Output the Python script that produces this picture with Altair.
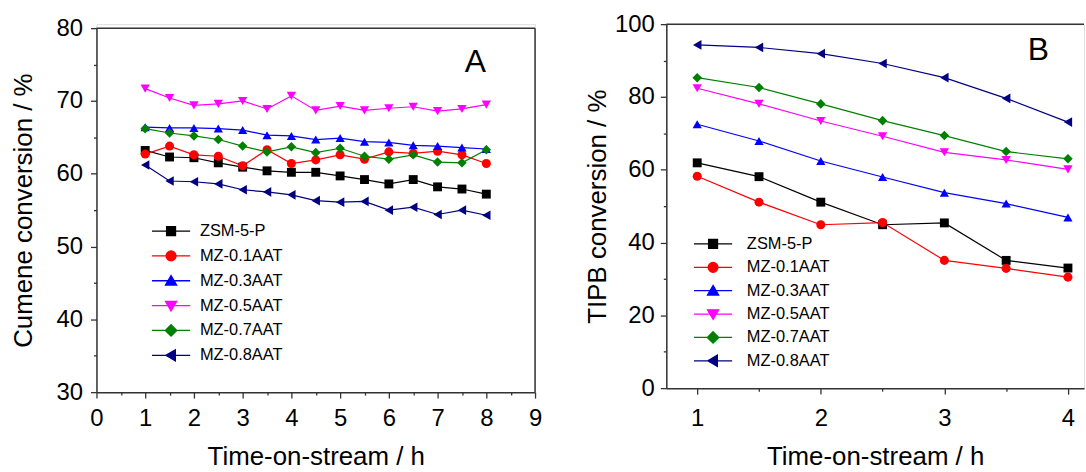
import altair as alt
import pandas as pd

FONT = "Liberation Sans"

series = ["ZSM-5-P", "MZ-0.1AAT", "MZ-0.3AAT", "MZ-0.5AAT", "MZ-0.7AAT", "MZ-0.8AAT"]
colors = ["#000000", "#ff0000", "#0000ff", "#ff00ff", "#008000", "#000080"]
shapes = ["square", "circle", "triangle-up", "triangle-down", "diamond", "triangle-left"]

# legend glyphs: a short line segment with the series marker on it
legend_glyphs = [
    "M-2.4,0H2.4M-0.56,-0.56H0.56V0.56H-0.56Z",
    "M-2.4,0H2.4M0.62,0A0.62,0.62 0 1,1 -0.62,0A0.62,0.62 0 1,1 0.62,0Z",
    "M-2.4,0H2.4M0,-0.66L0.7,0.54L-0.7,0.54Z",
    "M-2.4,0H2.4M0,0.66L0.7,-0.54L-0.7,-0.54Z",
    "M-2.4,0H2.4M0,-0.72L0.72,0L0,0.72L-0.72,0Z",
    "M-2.4,0H2.4M-0.66,0L0.54,-0.7L0.54,0.7Z",
]

# Panel A: cumene cracking
time_a = [1.0, 1.5, 2.0, 2.5, 3.0, 3.5, 4.0, 4.5, 5.0, 5.5, 6.0, 6.5, 7.0, 7.5, 8.0]
cumene_zsm5p = [63.2, 62.3, 62.2, 61.5, 60.9, 60.4, 60.2, 60.2, 59.7, 59.2, 58.6, 59.2, 58.2, 57.9, 57.2]
cumene_01 = [62.7, 63.8, 62.6, 62.4, 61.1, 63.3, 61.4, 61.9, 62.6, 62.0, 63.0, 62.8, 63.1, 62.6, 61.4]
cumene_03 = [66.4, 66.3, 66.3, 66.2, 66.0, 65.3, 65.2, 64.7, 64.9, 64.4, 64.3, 63.9, 63.8, 63.6, 63.4]
cumene_05 = [71.7, 70.4, 69.4, 69.6, 70.0, 68.9, 70.7, 68.7, 69.3, 68.7, 69.0, 69.2, 68.6, 68.9, 69.5]
cumene_07 = [66.2, 65.6, 65.2, 64.7, 63.8, 63.0, 63.7, 62.9, 63.5, 62.4, 62.0, 62.6, 61.6, 61.5, 63.3]
cumene_08 = [61.2, 59.0, 58.9, 58.6, 57.8, 57.5, 57.1, 56.3, 56.1, 56.2, 55.0, 55.4, 54.4, 55.0, 54.3]

# Panel B: TIPB cracking
time_b = [1.0, 1.5, 2.0, 2.5, 3.0, 3.5, 4.0]
tipb_zsm5p = [61.9, 58.1, 51.1, 44.9, 45.4, 35.1, 33.0]
tipb_01 = [58.2, 51.1, 44.9, 45.5, 35.1, 32.9, 30.5]
tipb_03 = [72.5, 67.9, 62.4, 58.0, 53.7, 50.7, 46.9]
tipb_05 = [82.4, 78.1, 73.4, 69.2, 64.8, 62.7, 60.1]
tipb_07 = [85.3, 82.6, 78.1, 73.5, 69.4, 65.0, 63.0]
tipb_08 = [94.3, 93.6, 91.9, 89.2, 85.3, 79.6, 73.1]


def long_table(times, columns):
    rows = []
    for name, values in zip(series, columns):
        for t, v in zip(times, values):
            rows.append({"time": t, "value": v, "series": name})
    return pd.DataFrame(rows)


df_a = long_table(time_a, [cumene_zsm5p, cumene_01, cumene_03, cumene_05, cumene_07, cumene_08])
df_b = long_table(time_b, [tipb_zsm5p, tipb_01, tipb_03, tipb_05, tipb_07, tipb_08])

color_scale = alt.Scale(domain=series, range=colors)
shape_scale = alt.Scale(domain=series, range=shapes)
glyph_scale = alt.Scale(domain=series, range=legend_glyphs)
marker_sizes = alt.Scale(domain=series, range=[80, 95, 110, 110, 120, 110])

FRAME = "#333333"

AXIS_STYLE = dict(
    grid=False,
    domainColor=FRAME,
    domainWidth=1.5,
    tickColor=FRAME,
    tickWidth=1.3,
    labelColor="#000000",
    labelFont=FONT,
    labelFontSize=24,
    labelOverlap=False,
    labelFlush=False,
    titleFont=FONT,
    titleFontSize=26,
    titleFontWeight="normal",
    titleColor="#000000",
)


def minor_tick_size(major_test):
    return {"condition": {"test": major_test, "value": 6}, "value": 3}


def edge(x, x2, y, y2):
    """A frame edge drawn as a rule, in pixel units of its panel."""
    return alt.Chart(pd.DataFrame({"edge": [0]})).mark_rule(
        color=FRAME, strokeWidth=1.5
    ).encode(x=alt.value(x), x2=alt.value(x2), y=alt.value(y), y2=alt.value(y2))


def panel(df, x_dom, x_vals, x_major, x_label_pad, y_dom, y_vals, y_major, y_title,
          y_label_pad, y_title_pad, width, height, plot_top, legend_x, legend_y,
          label_offset, row_pad, tag, tag_x, tag_y, frame):
    x_test = f"abs(datum.value % {x_major}) < 1e-6"
    y_test = f"abs(datum.value % {y_major}) < 1e-6"
    x_enc = alt.X(
        "time:Q",
        scale=alt.Scale(domain=x_dom, nice=False, zero=False),
        axis=alt.Axis(
            values=x_vals,
            labelExpr=f"{x_test} ? format(datum.value, 'd') : ''",
            tickSize=minor_tick_size(x_test),
            labelPadding=x_label_pad,
            titlePadding=13,
            title="Time-on-stream / h",
            **AXIS_STYLE,
        ),
    )
    y_enc = alt.Y(
        "value:Q",
        scale=alt.Scale(domain=y_dom, range=[height, plot_top], nice=False, zero=False),
        axis=alt.Axis(
            values=y_vals,
            labelExpr=f"{y_test} ? format(datum.value, 'd') : ''",
            tickSize=minor_tick_size(y_test),
            labelPadding=y_label_pad,
            titlePadding=y_title_pad,
            title=y_title,
            **AXIS_STYLE,
        ),
    )
    base = alt.Chart(df).encode(x=x_enc, y=y_enc)

    lines = base.mark_line(strokeWidth=1.2).encode(
        color=alt.Color("series:N", scale=color_scale, legend=None),
        detail="series:N",
    )
    points = base.mark_point(filled=True, opacity=1).encode(
        color=alt.Color("series:N", scale=color_scale, legend=None),
        shape=alt.Shape("series:N", scale=shape_scale, legend=None),
        size=alt.Size("series:N", scale=marker_sizes, legend=None),
    )
    legend = alt.Legend(
        title=None,
        orient="none",
        legendX=legend_x,
        legendY=legend_y,
        padding=0,
        symbolSize=256,
        symbolStrokeWidth=1.3,
        symbolOpacity=1,
        labelFont=FONT,
        labelFontSize=16.5,
        labelColor="#000000",
        labelOffset=label_offset,
        rowPadding=row_pad,
    )
    key = base.mark_point(opacity=0).encode(
        fill=alt.Fill("series:N", scale=color_scale, legend=legend),
        stroke=alt.Stroke("series:N", scale=color_scale, legend=legend),
        shape=alt.Shape("series:N", scale=glyph_scale, legend=legend),
    )
    tag_text = alt.Chart(pd.DataFrame({"tag": [tag]})).mark_text(
        font=FONT, fontSize=32, align="center", baseline="middle", color="#000000"
    ).encode(text="tag:N", x=alt.value(tag_x), y=alt.value(tag_y))

    return alt.layer(lines, points, key, tag_text, *frame).resolve_scale(
        color="independent", shape="independent", fill="independent",
        stroke="independent", size="independent"
    ).properties(width=width, height=height)


# Panel A's frame sits 4 px lower than panel B's, so its plot starts at y = 4
A_W, A_H, A_TOP = 441, 370, 4
panel_a = panel(
    df_a, [0, 9], [i * 0.5 for i in range(19)], 1, 9,
    [30, 80], [30 + 5 * i for i in range(11)], 10,
    "Cumene conversion / %", 8, 20, A_W, A_H, A_TOP,
    66, 199, 20, 7, "A", 381, 38,
    frame=(edge(0, A_W, A_TOP, A_TOP), edge(A_W, A_W, A_TOP, A_H)),
)

B_W, B_H = 420, 366
panel_b = panel(
    df_b, [0.75, 4.13], [1 + 0.5 * i for i in range(7)], 1, 13,
    [0, 100], [10 * i for i in range(11)], 20,
    "TIPB conversion / %", 6, 4, B_W, B_H, 0,
    38, 212, 25, 5.5, "B", 374, 26,
    frame=(edge(0, B_W, 0, 0),),
)

chart = alt.hconcat(panel_a, panel_b, spacing=41).properties(
    padding={"left": 9, "top": 10, "right": 0, "bottom": 0}
).configure_view(strokeOpacity=0).configure(background="white")

chart.save("out.html", embed_options={"renderer": "svg", "actions": False})
